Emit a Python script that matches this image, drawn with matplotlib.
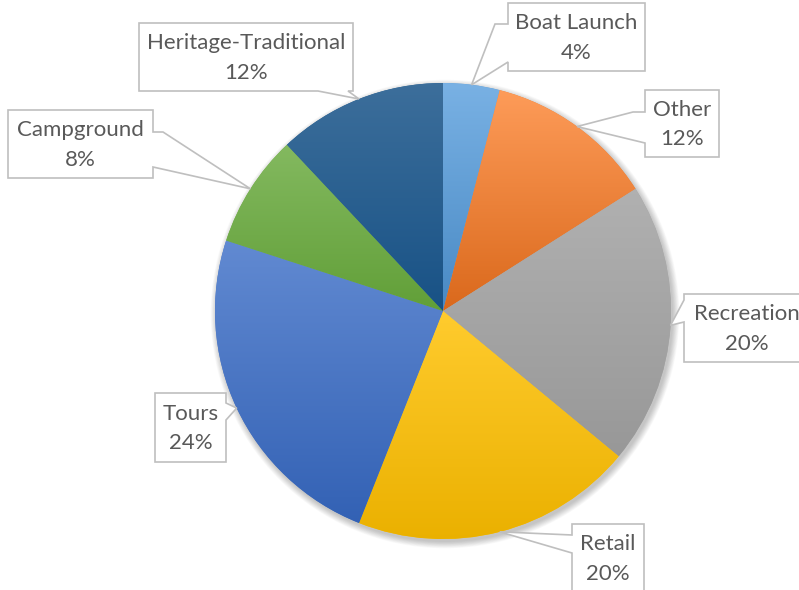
import matplotlib.pyplot as plt
import numpy as np
import colorsys
from matplotlib.patches import Polygon, Circle
from matplotlib.colors import to_rgb

labels = ["Boat Launch", "Other", "Recreation", "Retail", "Tours", "Campground", "Heritage-Traditional"]
values = [4, 12, 20, 20, 24, 8, 12]
colors = ["#5B9BD5", "#ED7D31", "#A5A5A5", "#FFC000", "#4472C4", "#70AD47", "#255E91"]

# pie geometry in pixels (y grows downwards)
cx, cy, R = 443, 311, 228

# callout boxes: (x0, y0, x1, y1), side of pointer, base span on that edge, elbow point
callouts = [
    ((508, 3, 645, 71), "left", (24, 62), (495, 24)),
    ((645, 90, 719, 157), "left", (112, 143), (633, 112)),
    ((684, 294, 810, 362), "left", (300, 322), None),
    ((572, 524, 644, 600), "left", (535, 553), None),
    ((155, 393, 226, 462), "right", (403, 420), None),
    ((8, 110, 153, 178), "right", (132, 167), (163, 132)),
    ((139, 23, 353, 91), "bottom", (318, 348), None),
]

plt.rcParams['font.family'] = ['Lato', 'DejaVu Sans']

fig = plt.figure(figsize=(7.99, 5.90), dpi=100)
ax = fig.add_axes([0, 0, 1, 1])


def adjust(c, sf, vf):
    h, s, v = colorsys.rgb_to_hsv(*to_rgb(c))
    return np.array(colorsys.hsv_to_rgb(h, min(s * sf, 1), min(v * vf, 1)))


# soft shadow
for k in range(10):
    ax.add_patch(Circle((cx + 2, cy + 3), R + k * 0.7, color="black", alpha=0.025, lw=0, zorder=0))

wedges, _ = ax.pie(values, colors=colors, startangle=-90, counterclock=True,
                   center=(cx, cy), radius=R, wedgeprops=dict(linewidth=0))

for w, c in zip(wedges, colors):
    w.set_zorder(1)
    bb = w.get_path().get_extents()
    top = adjust(c, 0.82, 1.07)
    bot = adjust(c, 1.1, 0.92)
    t = np.linspace(0, 1, 256)[:, None, None]
    grad = top[None, None, :] * (1 - t) + bot[None, None, :] * t
    im = ax.imshow(grad, extent=(bb.x0, bb.x1, bb.y1, bb.y0), origin="upper",
                   aspect="auto", zorder=2, interpolation="bilinear")
    im.set_clip_path(w)

# callouts
total = sum(values)
start = 0.0
for lab, v, (box, side, (a, b), elbow) in zip(labels, values, callouts):
    mid = (start + v / 2) / total * 2 * np.pi
    start += v
    tip = (cx + R * np.sin(mid), cy - R * np.cos(mid))
    x0, y0, x1, y1 = box
    pts = [(x0, y0), (x1, y0)]
    if side == "right":
        pts += [(x1, a)]
        if elbow:
            pts += [elbow]
        pts += [tip, (x1, b)]
    pts += [(x1, y1)]
    if side == "bottom":
        pts += [(b, y1), tip, (a, y1)]
    pts += [(x0, y1)]
    if side == "left":
        pts += [(x0, b), tip]
        if elbow:
            pts += [elbow]
        pts += [(x0, a)]
    ax.add_patch(Polygon(pts, closed=True, fc="white", ec="#bfbfbf", lw=1.2, zorder=5))
    pct = "{:.0f}%".format(v / total * 100)
    ax.text((x0 + min(x1, 810)) / 2, (y0 + min(y1, 592)) / 2 + 1, lab + "\n" + pct,
            ha="center", va="center", fontsize=16, color="#595959",
            linespacing=1.6, zorder=6)

ax.set_xlim(0, 799)
ax.set_ylim(590, 0)
ax.set_axis_off()

plt.savefig("out.png", dpi=100)
